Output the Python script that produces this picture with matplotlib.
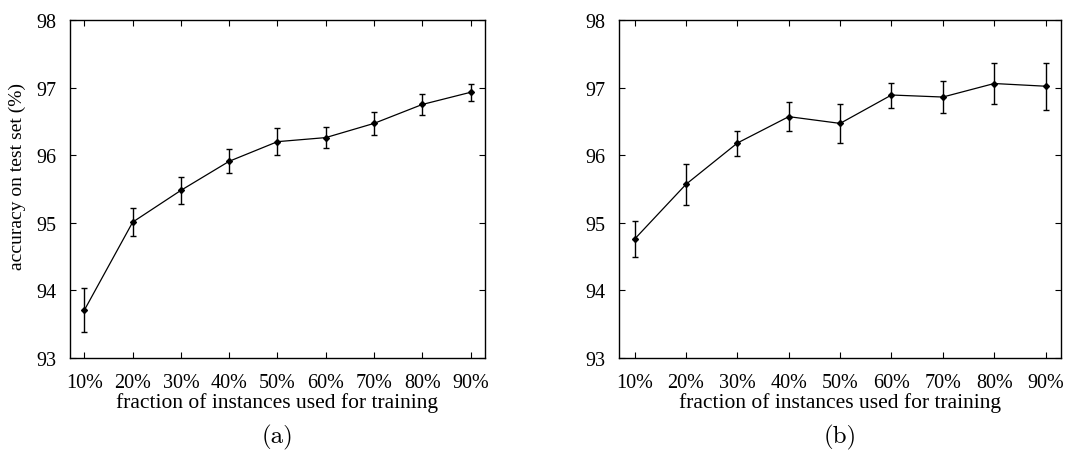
import matplotlib
matplotlib.use("Agg")
import matplotlib.pyplot as plt

fractions = [1, 2, 3, 4, 5, 6, 7, 8, 9]
tick_labels = ["10%", "20%", "30%", "40%", "50%", "60%", "70%", "80%", "90%"]

acc_a = [93.71, 95.01, 95.48, 95.91, 96.20, 96.26, 96.47, 96.75, 96.93]
err_a = [0.33, 0.21, 0.20, 0.175, 0.20, 0.155, 0.165, 0.15, 0.125]

acc_b = [94.76, 95.57, 96.18, 96.57, 96.47, 96.89, 96.86, 97.06, 97.02]
err_b = [0.26, 0.30, 0.185, 0.215, 0.29, 0.185, 0.24, 0.31, 0.345]

y_ticks = [93, 94, 95, 96, 97, 98]

plt.rcParams['font.family'] = ['Liberation Serif', 'DejaVu Serif']

fig = plt.figure(figsize=(10.65, 4.52), dpi=100)
ax_a = fig.add_axes([0.0657, 0.2058, 0.3897, 0.7478])
ax_b = fig.add_axes([0.5815, 0.2058, 0.4147, 0.7478])

for ax, acc, err, sub in [(ax_a, acc_a, err_a, "(a)"), (ax_b, acc_b, err_b, "(b)")]:
    ax.errorbar(fractions, acc, yerr=err, color='black', lw=0.9, elinewidth=1.0,
                capsize=2.5, capthick=1.0, marker='D', markersize=3)
    ax.set_xlim(0.7, 9.3)
    ax.set_ylim(93, 98)
    ax.set_xticks(fractions)
    ax.set_xticklabels(tick_labels)
    ax.set_yticks(y_ticks)
    ax.tick_params(direction='in', top=True, right=True, length=4, width=0.8,
                   labelsize=14.5)
    ax.tick_params(axis='x', pad=11)
    ax.tick_params(axis='y', pad=10)
    for s in ax.spines.values():
        s.set_linewidth(1.0)
    ax.set_xlabel("fraction of instances used for training", fontsize=15.5, labelpad=0)
    pos = ax.get_position()
    fig.text(pos.x0 + pos.width / 2, 1 - 437 / 452, sub, family='cmr10',
             fontsize=18, ha='center', va='center')

ax_a.set_ylabel("accuracy on test set (%)", fontsize=14)
ax_a.yaxis.set_label_coords(-0.105, 0.54)

fig.savefig("out.png", dpi=100)
